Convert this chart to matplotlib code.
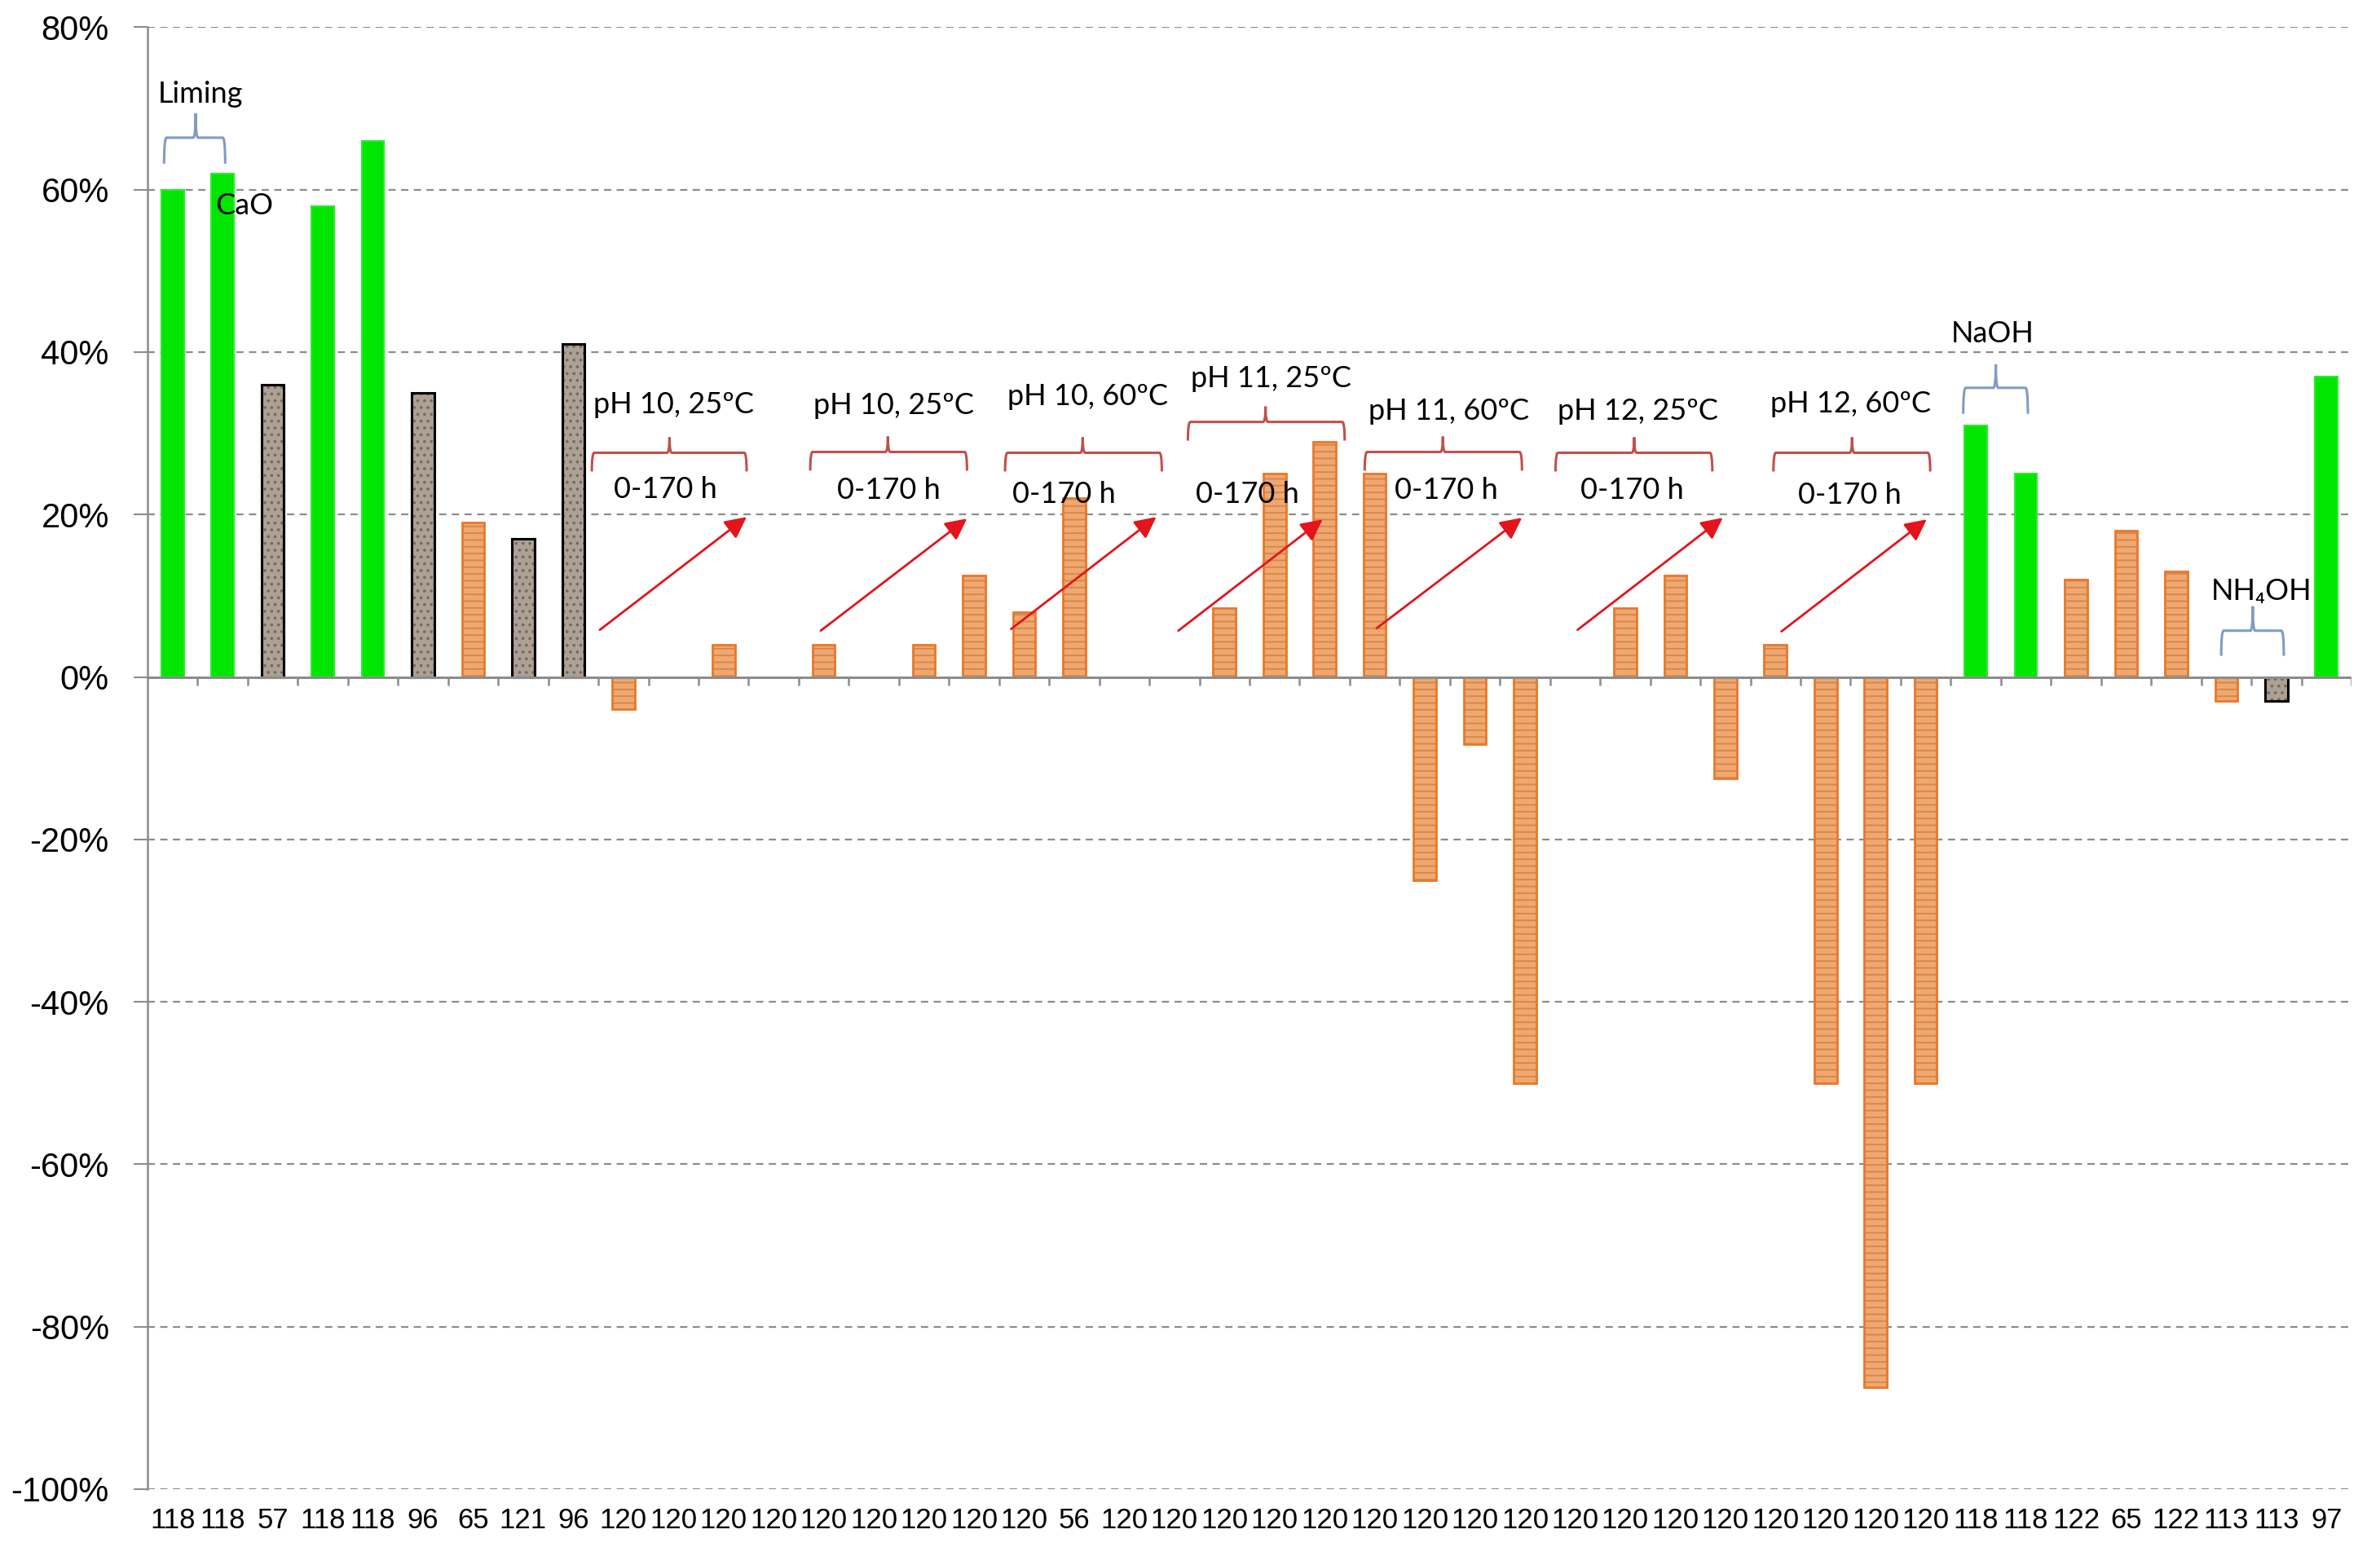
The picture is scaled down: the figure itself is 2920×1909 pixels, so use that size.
import numpy as np
import matplotlib
matplotlib.use('Agg')
import matplotlib.pyplot as plt
from matplotlib.path import Path
from matplotlib.patches import PathPatch

# Category labels under each bar (left to right)
tick_labels = ['118', '118', '57', '118', '118', '96', '65', '121', '96',
               '120', '120', '120', '120', '120', '120', '120', '120', '120',
               '56', '120', '120', '120', '120', '120', '120', '120', '120',
               '120', '120', '120', '120', '120', '120', '120', '120', '120',
               '118', '118', '122', '65', '122', '113', '113', '97']

# Change in % (None = no bar)
values = [60, 62, 36, 58, 66, 35, 19, 17, 41,
          -4, None, 4, None, 4, None, 4, 12.5, 8,
          22, None, None, 8.5, 25, 29, 25, -25, -8.3,
          -50, None, 8.5, 12.5, -12.5, 4, -50, -87.5, -50,
          31, 25, 12, 18, 13, -3, -3, 37]

# Bar fill type: g = green, b = brown (granite), o = orange (wood)
kinds = ['g', 'g', 'b', 'g', 'g', 'b', 'o', 'b', 'b',
         'o', 'o', 'o', 'o', 'o', 'o', 'o', 'o', 'o',
         'o', 'o', 'o', 'o', 'o', 'o', 'o', 'o', 'o',
         'o', 'o', 'o', 'o', 'o', 'o', 'o', 'o', 'o',
         'g', 'g', 'o', 'o', 'o', 'o', 'b', 'g']

condition_labels = ['pH 10, 25ºC', 'pH 10, 25ºC', 'pH 10, 60ºC', 'pH 11, 25ºC',
                    'pH 11, 60ºC', 'pH 12, 25ºC', 'pH 12, 60ºC']

TXT_FONT = ['Lato', 'DejaVu Sans']
RED = '#E3141B'
BRACE_RED = '#C0504D'
BRACE_BLUE = '#7F9CC4'
GRID = '#8C8C8C'

plt.rcParams['hatch.linewidth'] = 1.4

fig = plt.figure(figsize=(29.2, 19.09), dpi=100)
ax = fig.add_axes([0.062, 0.043, 0.926, 0.9395])

x = np.arange(len(values))
width = 0.45

styles = {
    'g': dict(face='#00E600', hatch=None, hcol='#00E600', edge='#2CEB2C', lw=1.5),
    'b': dict(face='#ADA094', hatch='..', hcol='#75685C', edge='black', lw=2.2),
    'o': dict(face='#F0A870', hatch='--', hcol='#D4884C', edge='#E8782A', lw=2.0),
}

for k, st in styles.items():
    idx = [i for i in range(len(values)) if kinds[i] == k and values[i] is not None]
    xs = x[idx]
    hs = [values[i] for i in idx]
    ax.bar(xs, hs, width, color=st['face'], edgecolor=st['hcol'],
           hatch=st['hatch'], linewidth=0, zorder=3)
    ax.bar(xs, hs, width, fill=False, edgecolor=st['edge'],
           linewidth=st['lw'], zorder=4)

# axes styling
ax.set_xlim(-0.5, len(values) - 0.5)
ax.set_ylim(-100, 80)
yt = np.arange(-100, 81, 20)
ax.set_yticks(yt)
ax.set_yticklabels([f'{v}%' for v in yt], fontsize=30,
                   family=['Liberation Sans', 'DejaVu Sans'])
ax.tick_params(axis='y', direction='out', length=12, width=1.5, color=GRID, pad=22)
ax.set_xticks(x)
ax.set_xticklabels(tick_labels, fontsize=25,
                   family=['Liberation Sans Narrow', 'Liberation Sans', 'DejaVu Sans'])
ax.tick_params(axis='x', length=0, pad=16)

for s in ['top', 'right', 'bottom']:
    ax.spines[s].set_visible(False)
ax.spines['left'].set_color(GRID)
ax.spines['left'].set_linewidth(1.8)

for v in yt:
    if v != 0:
        ax.axhline(v, color=GRID, lw=1.6, ls=(0, (4, 3)), zorder=1)
ax.axhline(0, color=GRID, lw=2.2, zorder=5)
ax.vlines(x[:-1] + 0.5, -1.1, 0, color=GRID, lw=1.8, zorder=5)
ax.vlines([len(values) - 0.5], -1.1, 0, color=GRID, lw=1.8, zorder=5)


def brace(x0, x1, xm, y, y_end, y_tip, color, lw=2.2):
    r = 0.05
    verts = [(x0, y_end), (x0, y), (x0 + r, y),
             (xm - r, y), (xm, y), (xm, y_tip),
             (xm, y), (xm + r, y),
             (x1 - r, y), (x1, y), (x1, y_end)]
    codes = [Path.MOVETO, Path.CURVE3, Path.CURVE3,
             Path.LINETO, Path.CURVE3, Path.CURVE3,
             Path.CURVE3, Path.CURVE3,
             Path.LINETO, Path.CURVE3, Path.CURVE3]
    ax.add_patch(PathPatch(Path(verts, codes), fill=False, edgecolor=color,
                           lw=lw, zorder=6))


def arrow(x0, y0, x1, y1):
    ax.annotate('', xy=(x1, y1), xytext=(x0, y0),
                arrowprops=dict(arrowstyle='-|>', color=RED, lw=2.0,
                                mutation_scale=40, shrinkA=0, shrinkB=0),
                zorder=7)


def label(xc, yc, s):
    ax.text(xc, yc, s, ha='center', va='center', fontsize=26,
            family=TXT_FONT, color='black', zorder=8)


# pH condition groups: (brace x0, x1, tip, brace y, label x, label y, "0-170 h" x, arrow)
groups = [
    (8.37, 11.46, 9.92, 27.6, 10.0, 33.5, 9.84, (8.53, 5.8, 11.46, 19.7)),
    (12.73, 15.86, 14.28, 27.7, 14.4, 33.4, 14.3, (12.94, 5.7, 15.86, 19.5)),
    (16.62, 19.75, 18.17, 27.6, 18.27, 34.5, 17.79, (16.74, 5.9, 19.64, 19.7)),
    (20.27, 23.40, 21.82, 31.4, 21.93, 36.7, 21.45, (20.08, 5.7, 22.96, 19.4)),
    (23.80, 26.94, 25.36, 27.7, 25.48, 32.7, 25.42, (24.04, 6.0, 26.94, 19.6)),
    (27.61, 30.74, 29.18, 27.6, 29.25, 32.7, 29.14, (28.05, 5.8, 30.95, 19.6)),
    (31.96, 35.09, 33.53, 27.6, 33.51, 33.6, 33.49, (32.12, 5.6, 35.02, 19.4)),
]
h_y = [23.1, 23.0, 22.5, 22.5, 23.0, 23.0, 22.4]

for (bx0, bx1, bxm, by, lx, ly, hx, arr), txt, hy in zip(groups, condition_labels, h_y):
    brace(bx0, bx1, bxm, by, by - 2.3, by + 1.9, BRACE_RED)
    label(lx, ly, txt)
    label(hx, hy, '0-170 h')
    arrow(*arr)

# blue braces for the other treatments
brace(-0.17, 1.05, 0.46, 66.4, 63.2, 69.4, BRACE_BLUE)
label(0.55, 71.8, 'Liming')
label(1.44, 58.0, 'CaO')
brace(35.75, 37.04, 36.4, 35.6, 32.4, 38.5, BRACE_BLUE)
label(36.34, 42.3, 'NaOH')
brace(40.9, 42.15, 41.53, 5.7, 2.6, 8.7, BRACE_BLUE)
label(41.7, 10.5, 'NH₄OH')

fig.savefig('out.png', dpi=100, facecolor='white')
